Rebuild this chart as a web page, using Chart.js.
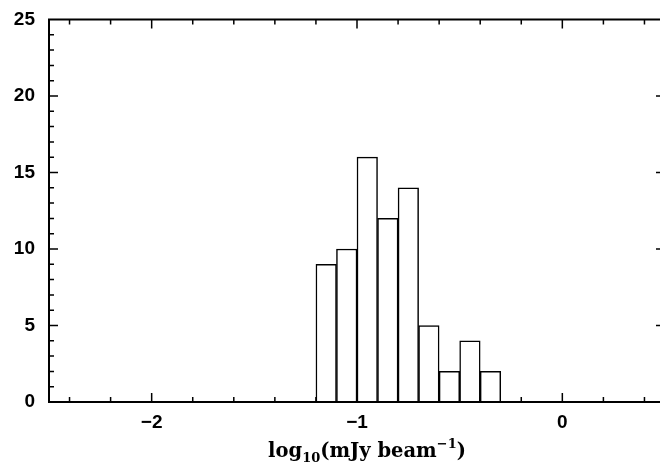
<!DOCTYPE html>
<html>
<head>
<meta charset="utf-8">
<script src="https://cdn.jsdelivr.net/npm/chart.js@4"></script>
<style>
  html, body { margin: 0; padding: 0; background: #fff; overflow: hidden; }
  #wrap { width: 680px; height: 470px; }
</style>
</head>
<body>
<div id="wrap"><canvas id="chart" width="680" height="470"></canvas></div>
<script>
// Histogram bins (centres, width 0.1) and counts
const binCenters = [-1.15, -1.05, -0.95, -0.85, -0.75, -0.65, -0.55, -0.45, -0.35];
const counts = [9, 10, 16, 12, 14, 5, 2, 4, 2];

// Axis ticks
const xMajorTicks = [-2, -1, 0];
const xAllTicks = [-2.4, -2.2, -2, -1.8, -1.6, -1.4, -1.2, -1, -0.8, -0.6, -0.4, -0.2, 0, 0.2, 0.4];
const yMajorTicks = [0, 5, 10, 15, 20, 25];
const yAllTicks = [1, 2, 3, 4, 5, 6, 7, 8, 9, 10, 11, 12, 13, 14, 15, 16, 17, 18, 19, 20, 21, 22, 23, 24];

const tickFont = { family: "'Liberation Sans', Arial, sans-serif", size: 19, weight: "bold" };

// Frame, inward ticks and axis title
const framePlugin = {
  id: "frame",
  afterDraw(chart) {
    const { ctx, chartArea: a, scales } = chart;
    const x = scales.x;
    const y = scales.y;
    ctx.save();
    ctx.strokeStyle = "#000";
    ctx.lineWidth = 2;
    ctx.strokeRect(a.left, a.top, a.right - a.left, a.bottom - a.top);

    ctx.lineWidth = 1.5;
    ctx.beginPath();
    xAllTicks.forEach((v) => {
      const px = x.getPixelForValue(v);
      const len = xMajorTicks.includes(v) ? 9 : 5;
      ctx.moveTo(px, a.bottom);
      ctx.lineTo(px, a.bottom - len);
      ctx.moveTo(px, a.top);
      ctx.lineTo(px, a.top + len);
    });
    yAllTicks.forEach((v) => {
      const py = y.getPixelForValue(v);
      const len = yMajorTicks.includes(v) ? 9 : 5;
      ctx.moveTo(a.left, py);
      ctx.lineTo(a.left + len, py);
      ctx.moveTo(a.right, py);
      ctx.lineTo(a.right - len, py);
    });
    ctx.stroke();

    // x title: log10(mJy beam^-1)
    const big = "bold 19.5px 'DejaVu Serif', serif";
    const small = "bold 13px 'DejaVu Serif', serif";
    const parts = [
      { t: "log", f: big, dy: 0 },
      { t: "10", f: small, dy: 5 },
      { t: "(mJy beam", f: big, dy: 0 },
      { t: "\u22121", f: small, dy: -9 },
      { t: ")", f: big, dy: 0 },
    ];
    let total = 0;
    parts.forEach((p) => {
      ctx.font = p.f;
      p.w = ctx.measureText(p.t).width;
      total += p.w;
    });
    let cx = 367 - total / 2;
    const base = 457;
    ctx.fillStyle = "#000";
    ctx.textBaseline = "alphabetic";
    ctx.textAlign = "left";
    parts.forEach((p) => {
      ctx.font = p.f;
      ctx.fillText(p.t, cx, base + p.dy);
      cx += p.w;
    });
    ctx.restore();
  },
};

new Chart(document.getElementById("chart"), {
  type: "bar",
  data: {
    datasets: [
      {
        data: binCenters.map((c, i) => ({ x: c, y: counts[i] })),
        backgroundColor: "#ffffff",
        borderColor: "#000000",
        borderWidth: 1.5,
        borderSkipped: "bottom",
        barPercentage: 1,
        categoryPercentage: 1,
      },
    ],
  },
  options: {
    responsive: false,
    animation: false,
    events: [],
    layout: { padding: { left: 0, right: 15, top: 19.5, bottom: 0 } },
    plugins: { legend: { display: false }, tooltip: { enabled: false } },
    scales: {
      x: {
        type: "linear",
        min: -2.5,
        max: 0.5,
        offset: false,
        grid: { display: false, drawTicks: false },
        border: { display: false },
        afterFit: (s) => {
          s.height = 68;
          s.paddingLeft = 0;
          s.paddingRight = 0;
        },
        afterBuildTicks: (s) => { s.ticks = xMajorTicks.map((v) => ({ value: v })); },
        ticks: {
          padding: 9,
          color: "#000",
          font: tickFont,
          maxRotation: 0,
          autoSkip: false,
          callback: (v) => (v < 0 ? "\u2212" + Math.abs(v) : String(v)),
        },
      },
      y: {
        min: 0,
        max: 25,
        grid: { display: false, drawTicks: false },
        border: { display: false },
        afterFit: (s) => {
          s.width = 49;
          s.paddingTop = 0;
          s.paddingBottom = 0;
        },
        ticks: {
          stepSize: 5,
          padding: 14,
          color: "#000",
          font: tickFont,
        },
      },
    },
  },
  plugins: [framePlugin],
});
</script>
</body>
</html>
